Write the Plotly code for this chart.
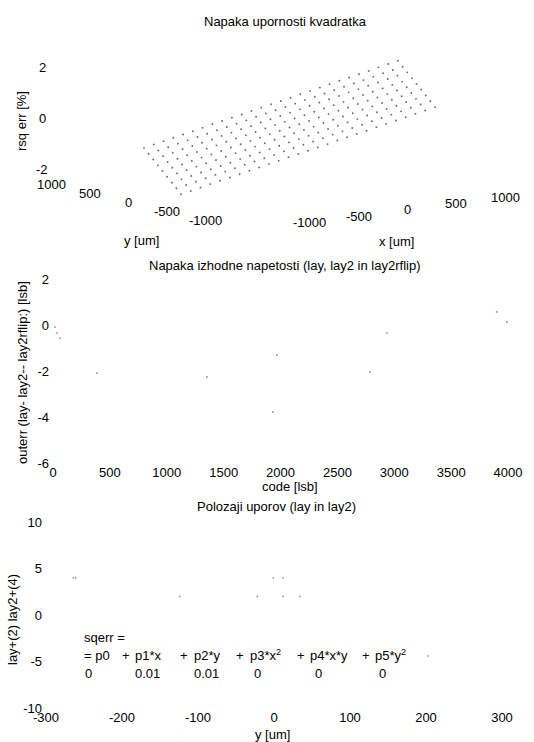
import plotly.graph_objects as go

# ---------------- data ----------------
# Panel 1: sheet resistance error surface (3D view, drawn as projected dots)
x_um = [-1300, -1200, -1100, -1000, -900, -800, -700, -600, -500, -400, -300, -200, -100,
        0, 100, 200, 300, 400, 500, 600, 700, 800, 900, 1000, 1100, 1200, 1300]
y_um = [-240, -180, -120, -60, 0, 60, 120, 180, 240]
# rsq err [%] read along x (at y=0) and offset along y (at x=0)
rsq_along_x = [-1.07, -0.99, -0.91, -0.82, -0.74, -0.66, -0.58, -0.49, -0.41, -0.33, -0.25,
               -0.16, -0.08, 0.00, 0.08, 0.16, 0.25, 0.33, 0.41, 0.49, 0.58, 0.66, 0.74,
               0.82, 0.91, 0.99, 1.07]
rsq_along_y = [-0.74, -0.55, -0.37, -0.18, 0.00, 0.18, 0.37, 0.55, 0.74]
z_ticks = [2, 0, -2]
y_ticks3d = [1000, 500, 0, -500, -1000]
x_ticks3d = [-1000, -500, 0, 500, 1000]

# Panel 2: output voltage error
code_lsb = [18, 35, 62, 386, 1353, 1933, 1968, 2786, 2935, 3900, 3990]
outerr_lsb = [-0.09, -0.35, -0.57, -2.09, -2.26, -3.78, -1.30, -2.04, -0.35, 0.57, 0.13]
code_ticks = [0, 500, 1000, 1500, 2000, 2500, 3000, 3500, 4000]
outerr_ticks = [2, 0, -2, -4, -6]

# Panel 3: resistor positions
lay_y = [-124, -22, 12, 34]
lay_v = [2, 2, 2, 2]
lay2_y = [-264, -261, -1, 12]
lay2_v = [4, 4, 4, 4]
other_y = [203]
other_v = [-4.4]
ypos_ticks = [-300, -200, -100, 0, 100, 200, 300]
lay_ticks = [10, 5, 0, -5, -10]
fit_terms = ["= p0", "+", "p1*x", "+", "p2*y", "+", "p3*x<sup>2</sup>", "+", "p4*x*y", "+", "p5*y<sup>2</sup>"]
fit_values = ["0", "0.01", "0.01", "0", "0", "0"]

# ---------------- style / projection ----------------
W, H = 534, 742
FONT = "Liberation Sans, Arial, sans-serif"
FS = 13
TXT = "#000000"
O = (289.5, 127.5)
EX = (0.0977, -0.0125)
EY = (-0.0771, -0.018)
EZ = -25.5


def proj(x, y, z):
    return (O[0] + EX[0] * x + EY[0] * y, O[1] + EX[1] * x + EY[1] * y + EZ * z)


fig = go.Figure()

# surface dots
px, py = [], []
for i, yv in enumerate(y_um):
    for j, xv in enumerate(x_um):
        sx, sy = proj(xv, yv, rsq_along_x[j] + rsq_along_y[i])
        px.append(sx)
        py.append(sy)
fig.add_trace(go.Scatter(x=px, y=py, mode="markers", xaxis="x", yaxis="y",
                         marker=dict(size=1.9, color="#6a6a6a"), hoverinfo="skip",
                         showlegend=False))

ann = []


def text(x, y, s, size=FS, angle=0, xanchor="center"):
    ann.append(dict(x=x, y=y, xref="x", yref="y", text=s, showarrow=False,
                    textangle=angle, xanchor=xanchor, yanchor="middle",
                    font=dict(family=FONT, size=size, color=TXT)))


for t in z_ticks:
    sx, sy = proj(-1650, 1000, t)
    text(sx - 9, sy - 12, str(t))
for t in y_ticks3d:
    sx, sy = proj(-1650, t, -2.15)
    text(sx, sy, str(t))
for t in x_ticks3d:
    sx, sy = proj(t, -1530, -2.15)
    text(sx, sy, str(t))

text(285, 21, "Napaka upornosti kvadratka")
text(21, 121, "rsq err [%]", angle=-90)
text(141, 240, "y [um]")
text(396, 241, "x [um]")

# panel 2
fig.add_trace(go.Scatter(x=code_lsb, y=outerr_lsb, mode="markers", xaxis="x2", yaxis="y2",
                         marker=dict(size=1.8, color="#888888"), hoverinfo="skip",
                         showlegend=False))
text(284, 265, "Napaka izhodne napetosti (lay, lay2 in lay2rflip)")
text(22, 373, "outerr (lay- lay2-- lay2rflip:) [lsb]", angle=-90)
text(290, 486, "code [lsb]")

# panel 3
for xs, ys in ((lay_y, lay_v), (lay2_y, lay2_v), (other_y, other_v)):
    fig.add_trace(go.Scatter(x=xs, y=ys, mode="markers", xaxis="x3", yaxis="y3",
                             marker=dict(size=1.8, color="#999999"), hoverinfo="skip",
                             showlegend=False))
text(276, 506, "Polozaji uporov (lay in lay2)")
text(12, 620, "lay+(2) lay2+(4)", angle=-90)
text(272, 734, "y [um]")
text(82, 637, "sqerr =", xanchor="left")
term_x = [82, 120, 133, 178, 192, 234, 248, 295, 308, 360, 373]
for s, xx in zip(fit_terms, term_x):
    text(xx, 655, s, xanchor="left")
val_x = [83, 133, 192, 252, 313, 377]
for s, xx in zip(fit_values, val_x):
    text(xx, 673, s, xanchor="left")

hidden = dict(visible=False, showgrid=False, zeroline=False, fixedrange=True, automargin=False)
tickfont = dict(family=FONT, size=FS, color=TXT)
common = dict(showgrid=False, zeroline=False, showline=False, ticks="", tickfont=tickfont,
              automargin=False, fixedrange=True)

fig.update_layout(
    width=W, height=H, autosize=False, margin=dict(l=0, r=0, t=0, b=0, pad=0, autoexpand=False),
    paper_bgcolor="white", plot_bgcolor="rgba(0,0,0,0)",
    showlegend=False,
    xaxis=dict(range=[0, W], domain=[0, 1], **hidden),
    yaxis=dict(range=[H, 0], domain=[0, 1], **hidden),
    xaxis2=dict(range=[0, 4200], domain=[53 / W, 530.8 / W], anchor="y2",
                tickvals=code_ticks, ticktext=[str(v) for v in code_ticks], **common),
    yaxis2=dict(range=[-6, 2], domain=[1 - 463 / H, 1 - 279 / H], anchor="x2",
                tickvals=outerr_ticks, ticktext=[str(v) for v in outerr_ticks],
                ticklabelstandoff=3, **common),
    xaxis3=dict(range=[-300, 300], domain=[46 / W, 502 / W], anchor="y3",
                tickvals=ypos_ticks, ticktext=[str(v) for v in ypos_ticks], **common),
    yaxis3=dict(range=[-10, 10], domain=[1 - 708 / H, 1 - 522 / H], anchor="x3",
                tickvals=lay_ticks, ticktext=[str(v) for v in lay_ticks],
                ticklabelstandoff=3, **common),
    annotations=ann,
)

fig.write_html("out.html", config={"displayModeBar": False},
               post_script="document.body.style.margin='0';document.body.style.overflow='hidden';")
